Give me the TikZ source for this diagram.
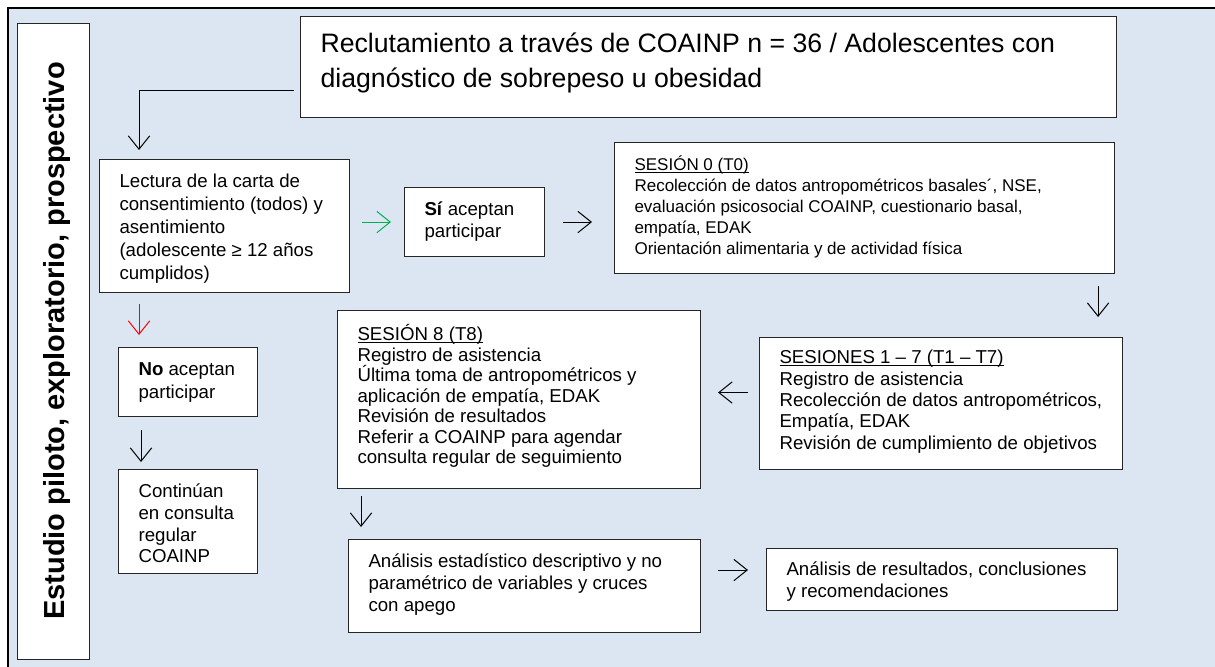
\documentclass[tikz,border=0pt]{standalone}
\usepackage{fontspec}
\setmainfont{Liberation Sans}
\usepackage{xcolor}
\usetikzlibrary{arrows.meta}
\usetikzlibrary{calc}

\definecolor{fondo}{RGB}{220,230,242}
\definecolor{verde}{RGB}{0,176,80}
\definecolor{rojo}{RGB}{255,0,0}

\newdimen\pix \pix=0.75pt
% box text: width, height, first baseline, text
\newcommand{\caja}[4]{\parbox[c][#2\pix][t]{#1\pix}{\raggedright\leftskip=20\pix\rule{0pt}{#3\pix}#4}}
% close underline for the session titles
\newcommand{\subr}[1]{\setbox0\hbox{#1}\rlap{\rule[-2.2pt]{\wd0}{.75pt}}\box0}

\begin{document}
\begin{tikzpicture}[x=0.75pt,y=-0.75pt,
	caja/.style={draw=black!85, fill=white, line width=.8pt, anchor=north west, inner sep=0pt},
	flecha/.style={-{Straight Barb[length=10pt,width=16pt]}, line width=.75pt}]

	\useasboundingbox (0,0) rectangle (1215,667);

	%background frame
	\fill[fondo] (8,8) rectangle (1215,667);
	\draw[line width=2pt] (8,667) -- (8,8) -- (1215,8);

	% side bar
	\node[caja, minimum width=54pt, minimum height=477pt] (lado) at (17,23) {};
	\node[rotate=90, anchor=base, font=\fontsize{21.75}{26}\selectfont\bfseries] (estudio) at (64,341) {Estudio piloto, exploratorio, prospectivo};

	% Boxes
	\node[caja, font=\fontsize{20}{26.25}\selectfont] (recl) at (300,16) {\caja{816}{101}{36}{Reclutamiento a través de COAINP n = 36 / Adolescentes con\\diagnóstico de sobrepeso u obesidad}};
	\node[caja, font=\fontsize{14}{17.25}\selectfont] (lectura) at (99,159) {\caja{250}{133}{28}{Lectura de la carta de\\consentimiento (todos) y\\asentimiento\\(adolescente ≥ 12 años\\cumplidos)}};
	\node[caja, font=\fontsize{14}{16.5}\selectfont] (si) at (404,187) {\caja{140}{69}{28}{\textbf{Sí} aceptan\\participar}};
	\node[caja, font=\fontsize{12.75}{15.75}\selectfont] (sesion0) at (614,142) {\caja{500}{131}{28}{\subr{SESIÓN 0 (T0)}\\Recolección de datos antropométricos basales´, NSE,\\evaluación psicosocial COAINP, cuestionario basal,\\empatía, EDAK\\Orientación alimentaria y de actividad física}};
	\node[caja, font=\fontsize{14}{16.1}\selectfont] (sesiones) at (759,337) {\caja{363}{132}{26}{\subr{SESIONES 1 – 7 (T1 – T7)}\\Registro de asistencia\\Recolección de datos antropométricos,\\Empatía, EDAK\\Revisión de cumplimiento de objetivos}};
	\node[caja, font=\fontsize{14}{15.4}\selectfont] (sesion8) at (337,310) {\caja{363}{178}{30}{\subr{SESIÓN 8 (T8)}\\Registro de asistencia\\Última toma de antropométricos y\\aplicación de empatía, EDAK\\Revisión de resultados\\Referir a COAINP para agendar\\consulta regular de seguimiento}};
	\node[caja, font=\fontsize{14}{17.25}\selectfont] (no) at (118,347) {\caja{139}{69}{28}{\textbf{No} aceptan\\participar}};
	\node[caja, font=\fontsize{14}{16.3}\selectfont] (continuan) at (118,469) {\caja{139}{104}{28}{Continúan\\en consulta\\regular\\COAINP}};
	\node[caja, font=\fontsize{14}{16.5}\selectfont] (analisis) at (348,539) {\caja{352}{93}{28}{Análisis estadístico descriptivo y no\\paramétrico de variables y cruces\\con apego}};
	\node[caja, font=\fontsize{14}{16.5}\selectfont] (resultados) at (766,548) {\caja{351}{62}{27}{Análisis de resultados, conclusiones\\y recomendaciones}};

	% Arrows
	\coordinate (codo) at (294,91);
	\draw[flecha] (codo) -| ($(lectura.north west)+(40,-9)$);
	\draw[flecha, verde, shorten <=9pt, shorten >=9.75pt] (lectura.east |- si.west) -- (si.west);
	\draw[flecha, shorten <=13.5pt, shorten >=16.5pt] (si.east) -- (si.east -| sesion0.west);

	\coordinate (s0s) at ($(sesion0.south east)+(-17,0)$);
	\draw[flecha, shorten <=9pt, shorten >=15pt] (s0s) -- (s0s |- sesiones.north);
	\coordinate (s17w) at ($(sesiones.west)+(0,-11)$);
	\draw[flecha, shorten <=8.25pt, shorten >=12.75pt] (s17w) -- (s17w -| sesion8.east);
	\coordinate (s8s) at ($(sesion8.south west)+(24,0)$);
	\draw[flecha, shorten <=5.25pt, shorten >=9pt] (s8s) -- (s8s |- analisis.north);
	\coordinate (ane) at ($(analisis.east)+(0,-16)$);
	\draw[flecha, shorten <=12.75pt, shorten >=13.5pt] (ane) -- (ane -| resultados.west);

	\coordinate (les) at ($(lectura.south west)+(40,0)$);
	\draw[flecha, rojo, shorten <=8.25pt, shorten >=9pt] (les) -- (les |- no.north);
	\coordinate (nos) at ($(no.south west)+(23,0)$);
	\draw[flecha, shorten <=9.75pt, shorten >=5.25pt] (nos) -- (nos |- continuan.north);

\end{tikzpicture}
\end{document}
